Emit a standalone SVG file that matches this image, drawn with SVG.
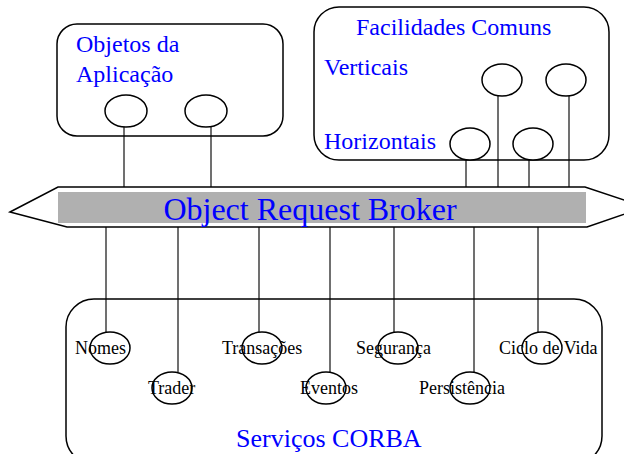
<svg xmlns="http://www.w3.org/2000/svg" width="624" height="454" viewBox="0 0 624 454">
<style>
  .box{fill:none;stroke:#000;stroke-width:1.5}
  .ell{fill:#fff;stroke:#000;stroke-width:1.5}
  .ln{stroke:#404040;stroke-width:1.5;fill:none}
  .blue{font-family:"Liberation Serif","Times New Roman",serif;fill:#0000ff}
  .lbl{font-family:"Liberation Serif","Times New Roman",serif;font-size:18px;fill:#000}
</style>
<rect width="624" height="454" fill="#fff"/>
<g id="connectors">
  <line class="ln" x1="124" y1="127" x2="124" y2="187"/>
  <line class="ln" x1="211" y1="127" x2="211" y2="187"/>
  <line class="ln" x1="466" y1="159" x2="466" y2="187"/>
  <line class="ln" x1="498" y1="96" x2="498" y2="187"/>
  <line class="ln" x1="529" y1="159" x2="529" y2="187"/>
  <line class="ln" x1="569" y1="96" x2="569" y2="187"/>
  <line class="ln" x1="106" y1="227" x2="106" y2="332"/>
  <line class="ln" x1="178" y1="227" x2="178" y2="372"/>
  <line class="ln" x1="259" y1="227" x2="259" y2="332"/>
  <line class="ln" x1="330" y1="227" x2="330" y2="372"/>
  <line class="ln" x1="394" y1="227" x2="394" y2="332"/>
  <line class="ln" x1="474" y1="227" x2="474" y2="372"/>
  <line class="ln" x1="538" y1="227" x2="538" y2="332"/>
</g>
<g id="app">
  <rect class="box" x="57" y="24" width="226" height="112" rx="20"/>
  <text class="blue" font-size="24" x="76" y="52">Objetos da</text>
  <text class="blue" font-size="24" x="76" y="82">Aplicação</text>
  <ellipse class="ell" cx="126" cy="111" rx="21" ry="16"/>
  <ellipse class="ell" cx="206" cy="111" rx="21" ry="16"/>
</g>
<g id="facilidades">
  <rect class="box" x="314" y="7" width="295" height="153" rx="25"/>
  <text class="blue" font-size="24" x="356" y="35">Facilidades Comuns</text>
  <text class="blue" font-size="24" x="324" y="75">Verticais</text>
  <text class="blue" font-size="24" x="324" y="149">Horizontais</text>
  <ellipse class="ell" cx="502" cy="80" rx="20" ry="16"/>
  <ellipse class="ell" cx="566" cy="80" rx="20" ry="16"/>
  <ellipse class="ell" cx="470" cy="144" rx="20" ry="16"/>
  <ellipse class="ell" cx="533" cy="144" rx="20" ry="16"/>
</g>
<g id="orb">
  <polygon points="10,212 58,187 585,187 645,207 587,227 67,227" fill="#fff" stroke="#000" stroke-width="1.5"/>
  <rect x="58" y="192" width="528" height="31" fill="#b0b0b0"/>
  <text class="blue" font-size="32" x="310" y="220" text-anchor="middle">Object Request Broker</text>
</g>
<g id="servicos">
  <rect class="box" x="66" y="299" width="536" height="165" rx="28"/>
  <text class="blue" font-size="26" x="236" y="447">Serviços CORBA</text>
</g>
<g id="nomes">
  <ellipse class="ell" cx="110" cy="348" rx="20" ry="16"/>
  <text class="lbl" x="75" y="354">Nomes</text>
</g>
<g id="trader">
  <ellipse class="ell" cx="172" cy="388" rx="20" ry="16"/>
  <text class="lbl" x="148" y="394">Trader</text>
</g>
<g id="transacoes">
  <ellipse class="ell" cx="262" cy="348" rx="20" ry="16"/>
  <text class="lbl" x="222" y="354">Transações</text>
</g>
<g id="eventos">
  <ellipse class="ell" cx="326" cy="388" rx="20" ry="16"/>
  <text class="lbl" x="300" y="394">Eventos</text>
</g>
<g id="seguranca">
  <ellipse class="ell" cx="398" cy="348" rx="20" ry="16"/>
  <text class="lbl" x="356" y="354">Segurança</text>
</g>
<g id="persistencia">
  <ellipse class="ell" cx="470" cy="388" rx="20" ry="16"/>
  <text class="lbl" x="419" y="394">Persistência</text>
</g>
<g id="ciclo">
  <ellipse class="ell" cx="542" cy="348" rx="20" ry="16"/>
  <text class="lbl" x="499" y="354">Ciclo de Vida</text>
</g>
</svg>
